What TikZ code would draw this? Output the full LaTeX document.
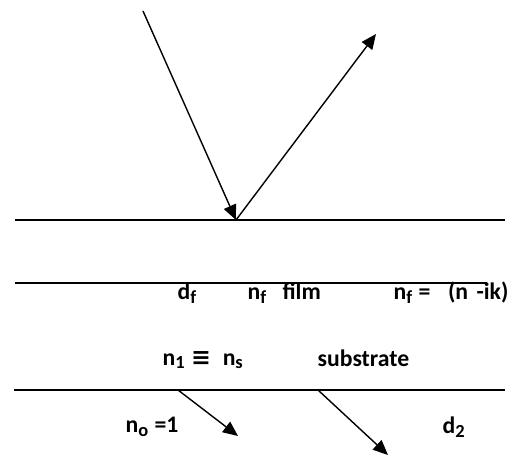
\documentclass[tikz,border=0pt]{standalone}
\usepackage{fontspec}
\setmainfont{Carlito}
\newfontfamily\symfont{DejaVu Sans}
\usetikzlibrary{arrows.meta}
\newcommand{\sbs}[1]{\textsubscript{\fontsize{10.5}{10}\selectfont #1}}
\begin{document}
\begin{tikzpicture}[x=0.02cm,y=-0.02cm,line width=0.8pt,
  ray/.style={-{Triangle[length=0.3cm,width=0.26cm]}},
  lbl/.style={anchor=west,inner sep=0pt,font=\fontsize{13.5}{15}\selectfont\bfseries}]
 \useasboundingbox (0,0) rectangle (512,459);
 % interfaces
 \coordinate (s1l) at (15,220);  \coordinate (s1r) at (505,220);
 \coordinate (s2l) at (15,283);  \coordinate (s2r) at (487,283);
 \coordinate (s3l) at (14,390);  \coordinate (s3r) at (505,390);
 \draw (s1l) -- (s1r);
 \draw (s2l) -- (s2r);
 \draw (s3l) -- (s3r);
 % rays
 \coordinate (src) at (143,11); \coordinate (hit) at (236,220);
 \coordinate (refl) at (376,34);
 \draw[ray] (src) -- (hit);
 \draw[ray] (hit) -- (refl);
 \coordinate (t1a) at (178,390); \coordinate (t1b) at (238,436);
 \coordinate (t2a) at (318,390); \coordinate (t2b) at (388,455);
 \draw[ray] (t1a) -- (t1b);
 \draw[ray] (t2a) -- (t2b);
 % labels
 \node[lbl] (df) at (177,293) {d\sbs{f}};
 \node[lbl] (film) at (247,293) {n\sbs{f}\hspace{0.65em}film};
 \node[lbl] (nfk) at (393,293) {n\sbs{f} =\hspace{0.75em}(n\hspace{0.35em}-ik)};
 \node[lbl] (n1) at (162,360) {n\sbs{1} {\symfont\bfseries ≡}\hspace{0.5em}n\sbs{s}};
 \node[lbl] (sub) at (317,358) {substrate};
 \node[lbl] (n0) at (125,427) {n\sbs{o} =1};
 \node[lbl] (d2) at (442,427) {d\sbs{2}};
\end{tikzpicture}
\end{document}
